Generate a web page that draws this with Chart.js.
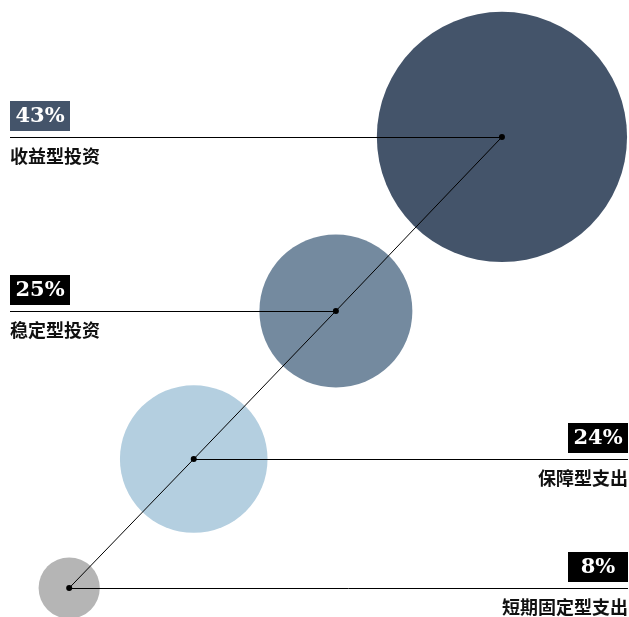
<!DOCTYPE html>
<html>
<head>
<meta charset="utf-8">
<script src="https://cdn.jsdelivr.net/npm/chart.js@4.4.0/dist/chart.umd.min.js"></script>
<style>
    html, body { margin: 0; padding: 0; background: #fff; }
    #wrap { width: 629px; height: 617px; position: relative; }
</style>
</head>
<body>
<div id="wrap"><canvas id="bubbleChart"></canvas></div>
<script>
// Data
const categories = ['收益型投资', '稳定型投资', '保障型支出', '短期固定型支出'];
const shares = [43, 25, 24, 8];
const xValues = [7.98, 5.34, 3.08, 1.10];
const yValues = [7.78, 4.96, 2.56, 0.47];
const bubbleColors = ['#44546a', '#748a9f', '#b4cfe0', '#b5b5b5'];
const boxColors = ['#44546a', '#000000', '#000000', '#000000'];
const labelSide = ['left', 'left', 'right', 'right'];

const points = shares.map((s, i) => ({ x: xValues[i], y: yValues[i], r: 9 + 2.7 * s }));

// Leader lines, percentage boxes and category names
const labelPlugin = {
    id: 'leaderLabels',
    afterDatasetsDraw(chart) {
        const ctx = chart.ctx;
        const meta = chart.getDatasetMeta(1);
        const W = chart.width;
        ctx.save();
        meta.data.forEach((el, i) => {
            const cx = el.x;
            const cy = Math.round(el.y) + 0.5;
            const left = labelSide[i] === 'left';

            // horizontal leader
            ctx.strokeStyle = '#000';
            ctx.lineWidth = 1;
            ctx.beginPath();
            if (left) {
                ctx.moveTo(10, cy);
                ctx.lineTo(cx, cy);
            } else {
                ctx.moveTo(cx, cy);
                ctx.lineTo(W - 1, cy);
            }
            ctx.stroke();

            // percentage box
            const bw = 60, bh = 30;
            const bx = left ? 10 : W - 1 - bw;
            const by = Math.round(cy) - 7 - bh;
            ctx.fillStyle = boxColors[i];
            ctx.fillRect(bx, by, bw, bh);
            ctx.fillStyle = '#fff';
            ctx.font = 'bold 21px "DejaVu Serif", "Liberation Serif", serif';
            ctx.textAlign = 'center';
            ctx.textBaseline = 'middle';
            ctx.fillText(shares[i] + '%', bx + bw / 2, by + bh / 2 + 1);

            // category name
            ctx.fillStyle = '#111';
            ctx.font = 'bold 18px "Noto Sans CJK SC", sans-serif';
            ctx.textAlign = left ? 'left' : 'right';
            ctx.fillText(categories[i], left ? 10 : W - 1, cy + 19);

            // center dot
            ctx.fillStyle = '#000';
            ctx.beginPath();
            ctx.arc(cx, el.y, 3, 0, Math.PI * 2);
            ctx.fill();
        });
        ctx.restore();
    }
};

const ctx = document.getElementById('bubbleChart').getContext('2d');
const bubbleChart = new Chart(ctx, {
    type: 'bubble',
    data: {
        datasets: [{
            type: 'line',
            label: 'path',
            data: points.map(p => ({ x: p.x, y: p.y })),
            borderColor: '#000',
            borderWidth: 1,
            pointRadius: 0,
            fill: false,
            order: 0
        }, {
            label: '比例',
            data: points,
            backgroundColor: bubbleColors,
            borderWidth: 0,
            hoverBorderWidth: 0,
            order: 1,
            clip: false
        }]
    },
    options: {
        responsive: true,
        maintainAspectRatio: false,
        animation: false,
        layout: { padding: 0, autoPadding: false },
        plugins: {
            legend: { display: false },
            tooltip: { enabled: false }
        },
        scales: {
            x: { type: 'linear', min: 0, max: 10, display: false },
            y: { type: 'linear', min: 0, max: 10, display: false }
        }
    },
    plugins: [labelPlugin]
});
</script>
</body>
</html>
